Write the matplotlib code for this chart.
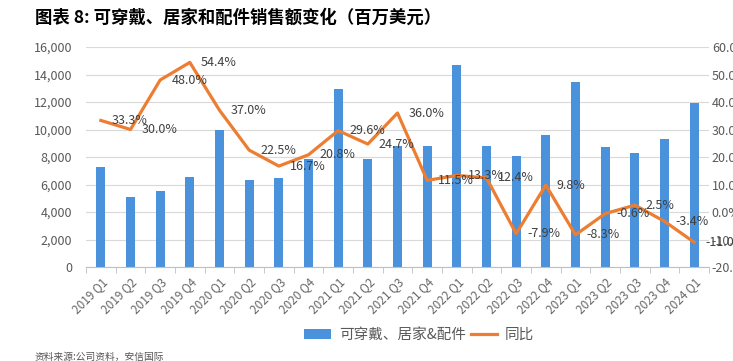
import matplotlib
matplotlib.use("Agg")
import matplotlib.pyplot as plt
from matplotlib.patches import Patch
from matplotlib.lines import Line2D
from matplotlib.ticker import FuncFormatter, FixedLocator

plt.rcParams['font.family'] = ['Noto Sans CJK SC', 'DejaVu Sans']

categories = ["2019 Q1", "2019 Q2", "2019 Q3", "2019 Q4", "2020 Q1", "2020 Q2", "2020 Q3",
              "2020 Q4", "2021 Q1", "2021 Q2", "2021 Q3", "2021 Q4", "2022 Q1", "2022 Q2",
              "2022 Q3", "2022 Q4", "2023 Q1", "2023 Q2", "2023 Q3", "2023 Q4", "2024 Q1"]
sales = [7300, 5100, 5500, 6550, 10000, 6300, 6450, 7850, 12950, 7830, 8770, 8770,
         14700, 8800, 8070, 9620, 13430, 8750, 8270, 9310, 11900]
yoy = [33.3, 30.0, 48.0, 54.4, 37.0, 22.5, 16.7, 20.8, 29.6, 24.7, 36.0, 11.5,
       13.3, 12.4, -7.9, 9.8, -8.3, -0.6, 2.5, -3.4, -11.0]

title = "图表 8: 可穿戴、居家和配件销售额变化（百万美元）"
bar_label = "可穿戴、居家&配件"
line_label = "同比"
source = "资料来源:公司资料，安信国际"

BLUE = "#4a92db"
ORANGE = "#ed7d31"
GRAY = "#595959"

W, H = 733, 361
fig = plt.figure(figsize=(W / 100, H / 100), dpi=100)
ax = fig.add_axes([86 / W, 1 - 267 / H, 623 / W, 220 / H])
ax2 = ax.twinx()

x = list(range(len(categories)))
ax.bar(x, sales, width=0.31, color=BLUE, zorder=2)
ax.set_ylim(0, 16000)
ax.set_yticks(range(0, 16001, 2000))
ax.yaxis.set_major_formatter(FuncFormatter(lambda v, p: f"{int(v):,}"))
ax.set_xlim(-0.5, len(categories) - 0.5)
ax.grid(axis='y', color="#d9d9d9", linewidth=0.8, zorder=0)
ax.set_axisbelow(True)
for s in ['top', 'left', 'right']:
    ax.spines[s].set_visible(False)
ax.spines['bottom'].set_color("#bfbfbf")
ax.tick_params(axis='y', length=0, pad=10, labelsize=9, labelcolor=GRAY)
ax.set_xticks(x)
ax.set_xticklabels(categories, rotation=45, ha='right', rotation_mode='anchor',
                   fontsize=8.5, color="#666666")
ax.tick_params(axis='x', which='major', length=0, pad=6)
ax.xaxis.set_minor_locator(FixedLocator([i - 0.5 for i in range(len(categories) + 1)]))
ax.tick_params(axis='x', which='minor', length=4, color="#bfbfbf")

ax2.plot(x, yoy, color=ORANGE, linewidth=2.3, zorder=3)
ax2.set_ylim(-20, 60)
ax2.set_yticks(range(-20, 61, 10))
ax2.yaxis.set_major_formatter(FuncFormatter(lambda v, p: f"{v:.1f}%"))
ax2.tick_params(axis='y', length=0, pad=2, labelsize=9, labelcolor=GRAY)
for s in ['top', 'left', 'right', 'bottom']:
    ax2.spines[s].set_visible(False)

for xi, v in zip(x, yoy):
    ax2.annotate(f"{v:.1f}%", (xi, v), xytext=(8, 0), textcoords='offset points',
                 ha='left', va='center', fontsize=9, color="#404040", zorder=4)

fig.text(35 / W, 1 - 18 / H, title, fontsize=12.5, fontweight='bold',
         va='center', ha='left', color="#000000")

handles = [Patch(facecolor=BLUE, edgecolor='none'),
           Line2D([0], [0], color=ORANGE, linewidth=2.3)]
fig.legend(handles, [bar_label, line_label], loc='center left', ncol=2,
           bbox_to_anchor=(300 / W, 1 - 335 / H), frameon=False, fontsize=10.5,
           handlelength=1.8, handletextpad=0.55, columnspacing=0.35,
           labelcolor=GRAY, borderaxespad=0, borderpad=0.3)

fig.text(35 / W, 1 - 357 / H, source, fontsize=7, style='italic', va='center',
         ha='left', color="#555555")

fig.savefig("out.png", dpi=100)
